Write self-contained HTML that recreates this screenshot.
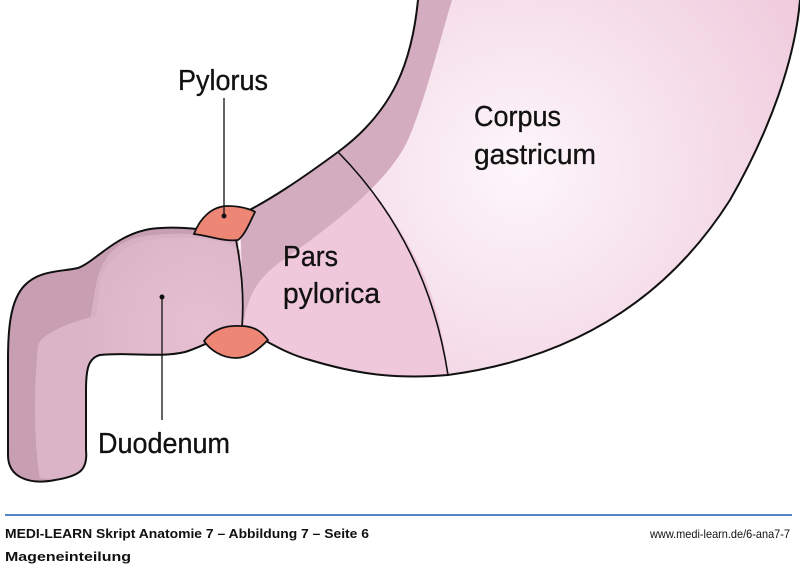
<!DOCTYPE html>
<html><head><meta charset="utf-8"><style>
body{margin:0;width:800px;height:568px;background:#fff;overflow:hidden;font-family:"Liberation Sans",sans-serif}
svg{position:absolute;left:0;top:0}
.lab{font-family:"Liberation Sans",sans-serif;font-size:29px;fill:#111;stroke:#111;stroke-width:0.3}
</style></head><body>
<svg width="800" height="568" viewBox="0 0 800 568">
<defs>
<radialGradient id="g" cx="520" cy="170" r="330" gradientUnits="userSpaceOnUse">
<stop offset="0" stop-color="#fdf6fa"/><stop offset="1" stop-color="#efcadc"/></radialGradient>
<radialGradient id="d" cx="200" cy="330" r="120" gradientUnits="userSpaceOnUse">
<stop offset="0" stop-color="#e6c0d2"/><stop offset="1" stop-color="#dcb4c8"/></radialGradient>
</defs>
<path d="M418,0 C412,60 395,110 338,152 C300,180 270,200 240,215 L242,330 C265,338 280,352 310,360 C350,372 390,380 448,375 C560,360 660,310 730,200 C770,130 795,60 800,0 Z" fill="url(#g)"/>
<path d="M338,152 C300,180 270,200 240,215 L242,330 C265,338 280,352 310,360 C350,372 390,380 448,375 C440,300 420,240 338,152 Z" fill="#f0c8dc"/>
<path d="M418,0 C412,60 395,110 338,152 C300,180 270,200 240,215 L244,320 C250,290 260,275 290,255 C340,220 395,175 410,135 C425,100 440,40 452,0 Z" fill="#d4acc0"/>
<path d="M418,0 C412,60 395,110 338,152 C300,180 270,200 240,215 M242,330 C265,338 280,352 310,360 C350,372 390,380 448,375 C560,360 660,310 730,200 C770,130 795,60 800,0" fill="none" stroke="#111" stroke-width="2"/>
<path d="M338,152 C400,215 435,290 448,375" fill="none" stroke="#111" stroke-width="1.6"/>
<path d="M238,238 C215,230 180,225 150,229 C115,235 95,262 78,268 C60,272 40,270 25,285 C10,300 8,330 8,360 L8,455 C8,478 30,485 55,480 C80,476 88,470 86,450 L86,390 C86,370 88,358 100,355 C130,352 160,358 185,352 C205,346 220,335 242,330 Z" fill="#c89eb3"/>
<path d="M238,240 C215,235 170,230 135,238 C110,246 100,262 95,290 L90,320 C70,325 45,330 38,345 C33,400 35,450 40,478 L55,480 C80,476 88,470 86,450 L86,390 C86,370 88,358 100,355 C130,352 160,358 185,352 C205,346 220,335 242,330 Z" fill="#d7b0c4"/>
<path d="M240,250 C225,240 200,236 165,238 C130,240 110,255 100,280 L96,316 C70,322 45,332 38,345 C33,400 35,450 40,478 L55,480 C80,476 88,470 86,450 L86,390 C86,370 88,358 100,355 C130,352 160,358 185,352 C205,346 220,335 242,330 Z" fill="url(#d)"/>
<path d="M238,238 C215,230 180,225 150,229 C115,235 95,262 78,268 C60,272 40,270 25,285 C10,300 8,330 8,360 L8,455 C8,478 30,485 55,480 C80,476 88,470 86,450 L86,390 C86,370 88,358 100,355 C130,352 160,358 185,352 C205,346 220,335 242,330" fill="none" stroke="#111" stroke-width="2"/>
<path d="M236,240 C242,270 244,300 242,328" fill="none" stroke="#111" stroke-width="1.8"/>
<path d="M194,234 C200,218 212,206 228,206 C245,206 256,212 255,212 C250,222 245,235 238,240 C225,242 210,236 194,234 Z" fill="#ee8676" stroke="#111" stroke-width="1.8"/>
<path d="M204,341 C212,330 225,325 240,326 C255,326 262,332 268,340 C258,350 248,358 236,358 C222,358 210,350 204,341 Z" fill="#ee8676" stroke="#111" stroke-width="1.8"/>
<line x1="224" y1="98" x2="224" y2="216" stroke="#111" stroke-width="1.3"/>
<circle cx="224" cy="216" r="2.5" fill="#111"/>
<line x1="162" y1="297" x2="162" y2="420" stroke="#111" stroke-width="1.3"/>
<circle cx="162" cy="297" r="2.5" fill="#111"/>
<g class="lab">
<text x="178" y="90" textLength="90" lengthAdjust="spacingAndGlyphs">Pylorus</text>
<text x="474" y="126" textLength="87" lengthAdjust="spacingAndGlyphs">Corpus</text>
<text x="474" y="164" textLength="122" lengthAdjust="spacingAndGlyphs">gastricum</text>
<text x="283" y="266" textLength="55" lengthAdjust="spacingAndGlyphs">Pars</text>
<text x="283" y="303" textLength="97" lengthAdjust="spacingAndGlyphs">pylorica</text>
<text x="98" y="453" textLength="132" lengthAdjust="spacingAndGlyphs">Duodenum</text>
</g>
<line x1="5" y1="515" x2="792" y2="515" stroke="#1b5fb0" stroke-width="1.5"/>
<text x="5" y="538" font-size="13" font-weight="bold" fill="#111" textLength="364" lengthAdjust="spacingAndGlyphs" font-family="Liberation Sans">MEDI-LEARN Skript Anatomie 7 – Abbildung 7 – Seite 6</text>
<text x="5" y="561" font-size="13" font-weight="bold" fill="#111" textLength="126" lengthAdjust="spacingAndGlyphs" font-family="Liberation Sans">Mageneinteilung</text>
<text x="650" y="538" font-size="12" fill="#111" textLength="140" lengthAdjust="spacingAndGlyphs" font-family="Liberation Sans">www.medi-learn.de/6-ana7-7</text>
</svg>
</body></html>
